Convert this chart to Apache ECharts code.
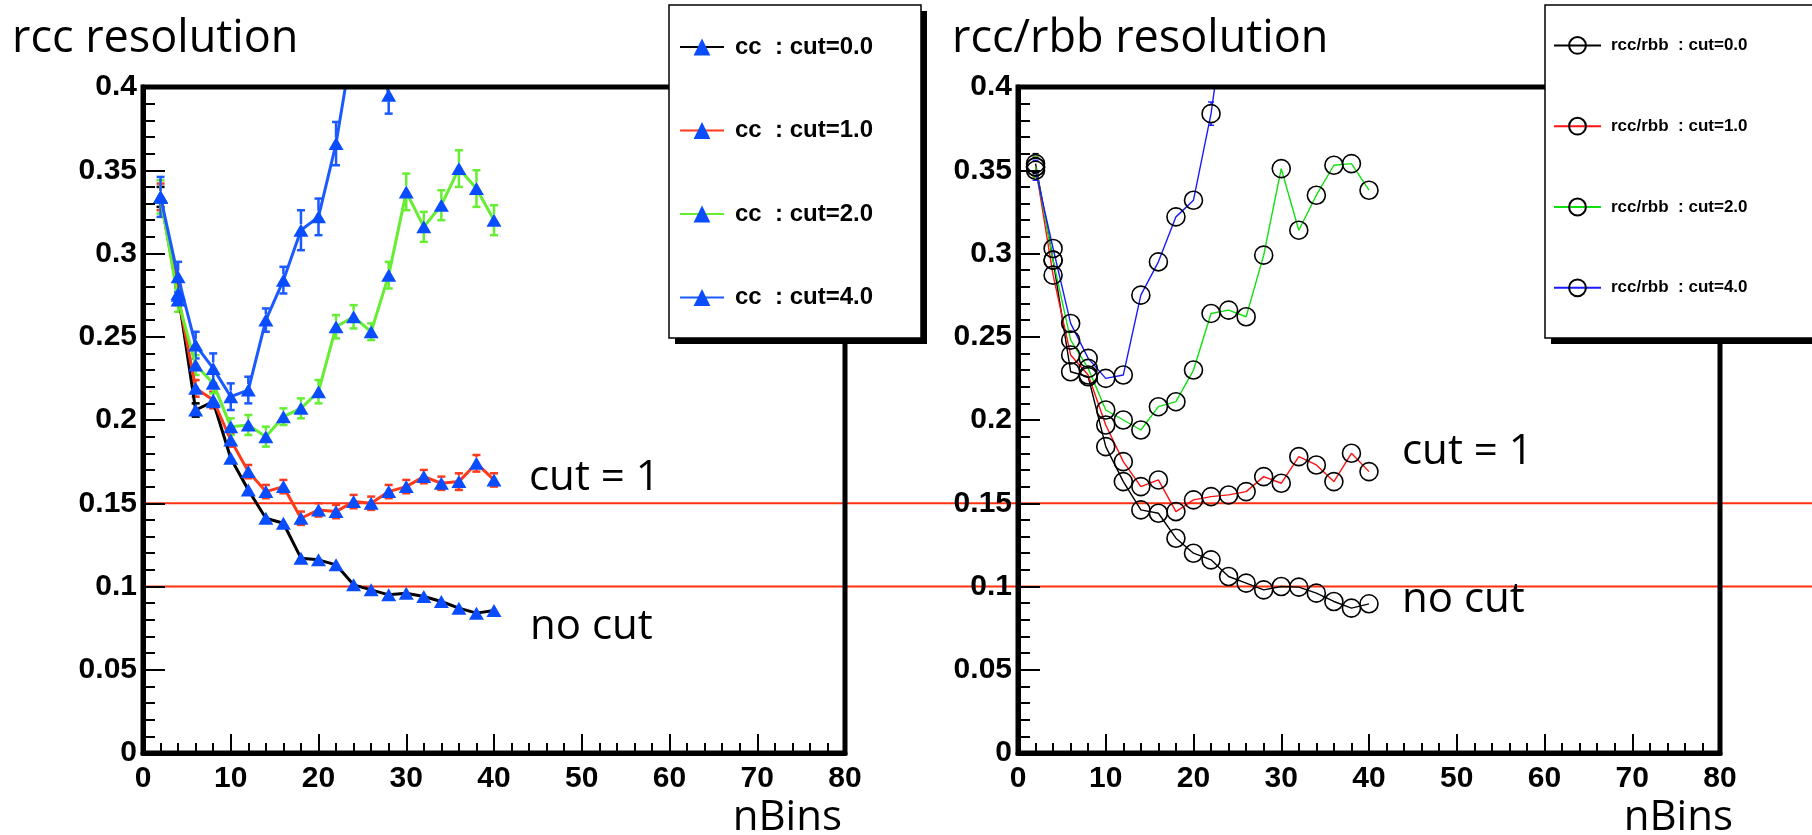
<!DOCTYPE html>
<html>
<head>
<meta charset="utf-8">
<title>rcc resolution vs nBins</title>
<script src="https://cdn.jsdelivr.net/npm/echarts@6/dist/echarts.min.js"></script>
<style>
  html, body { margin: 0; padding: 0; background: #ffffff; }
  #chart { width: 1812px; height: 835px; }
</style>
</head>
<body>
<div id="chart"></div>
<script>
// ---- data -----------------------------------------------------------------
const nBins = [2, 4, 6, 8, 10, 12, 14, 16, 18, 20, 22, 24, 26, 28, 30, 32, 34, 36, 38, 40];

// rcc resolution, one series per cut value
const ccNames = ['cc  : cut=0.0', 'cc  : cut=1.0', 'cc  : cut=2.0', 'cc  : cut=4.0'];
const ccCut0 = [0.334, 0.276, 0.206, 0.211, 0.177, 0.158, 0.141, 0.138, 0.117, 0.116, 0.113, 0.101, 0.098, 0.095, 0.096, 0.094, 0.091, 0.087, 0.084, 0.0856];
const ccCut1 = [0.334, 0.275, 0.219, 0.212, 0.188, 0.169, 0.157, 0.160, 0.141, 0.146, 0.145, 0.151, 0.150, 0.157, 0.160, 0.166, 0.162, 0.163, 0.174, 0.164];
const ccCut2 = [0.334, 0.272, 0.233, 0.222, 0.196, 0.197, 0.190, 0.202, 0.207, 0.217, 0.256, 0.262, 0.253, 0.287, 0.337, 0.316, 0.329, 0.351, 0.339, 0.320];
const ccCut4 = [0.334, 0.286, 0.245, 0.231, 0.214, 0.218, 0.260, 0.284, 0.314, 0.322, 0.366, 0.430, 0.450, 0.395];
const ccCut0Err = [0.006, 0.004, 0.004, 0.003, 0.003, 0.003, 0.003, 0.003, 0.002, 0.002, 0.002, 0.002, 0.002, 0.002, 0.002, 0.002, 0.002, 0.002, 0.002, 0.002];
const ccCut1Err = [0.008, 0.006, 0.005, 0.005, 0.004, 0.004, 0.004, 0.004, 0.004, 0.004, 0.004, 0.004, 0.004, 0.004, 0.004, 0.004, 0.004, 0.005, 0.005, 0.004];
const ccCut2Err = [0.010, 0.007, 0.006, 0.006, 0.005, 0.006, 0.006, 0.005, 0.006, 0.007, 0.007, 0.007, 0.005, 0.008, 0.011, 0.009, 0.009, 0.011, 0.011, 0.009];
const ccCut4Err = [0.012, 0.009, 0.008, 0.009, 0.008, 0.008, 0.007, 0.008, 0.012, 0.011, 0.013, 0.014, 0.014, 0.011];

// rcc/rbb resolution, one series per cut value
const ratioNames = ['rcc/rbb  : cut=0.0', 'rcc/rbb  : cut=1.0', 'rcc/rbb  : cut=2.0', 'rcc/rbb  : cut=4.0'];
const ratioCut0 = [0.354, 0.296, 0.229, 0.226, 0.184, 0.163, 0.146, 0.144, 0.129, 0.120, 0.116, 0.106, 0.102, 0.098, 0.100, 0.0996, 0.096, 0.091, 0.087, 0.0896];
const ratioCut1 = [0.352, 0.287, 0.239, 0.227, 0.197, 0.175, 0.160, 0.164, 0.145, 0.152, 0.154, 0.155, 0.157, 0.166, 0.162, 0.178, 0.173, 0.163, 0.180, 0.169];
const ratioCut2 = [0.352, 0.296, 0.248, 0.231, 0.206, 0.200, 0.194, 0.208, 0.211, 0.230, 0.264, 0.266, 0.262, 0.299, 0.351, 0.314, 0.335, 0.353, 0.354, 0.338];
const ratioCut4 = [0.350, 0.303, 0.258, 0.237, 0.225, 0.227, 0.275, 0.295, 0.322, 0.332, 0.384, 0.460];
const ratioCut0Err = [0.006, 0.004, 0.004, 0.004, 0.003, 0.003, 0.003, 0.003, 0.003, 0.003, 0.003, 0.003, 0.003, 0.003, 0.003, 0.003, 0.003, 0.003, 0.003, 0.003];
const ratioCut1Err = [0.006, 0.004, 0.004, 0.004, 0.003, 0.003, 0.003, 0.003, 0.003, 0.003, 0.003, 0.003, 0.003, 0.003, 0.003, 0.003, 0.003, 0.003, 0.003, 0.003];
const ratioCut2Err = [0.006, 0.004, 0.004, 0.004, 0.004, 0.004, 0.004, 0.004, 0.004, 0.004, 0.004, 0.004, 0.004, 0.004, 0.005, 0.004, 0.004, 0.005, 0.005, 0.004];
const ratioCut4Err = [0.006, 0.004, 0.004, 0.004, 0.004, 0.004, 0.004, 0.005, 0.005, 0.005, 0.007, 0.008];

// horizontal reference levels drawn across both panels
const refLevels = [0.15, 0.1];

// text
const panelTitles = ['rcc resolution', 'rcc/rbb resolution'];
const xTitle = 'nBins';
const notes = ['cut = 1', 'no cut'];

// ---- styling ----------------------------------------------------------------
const TICK_FONT = 'Liberation Sans';
const TEXT_FONT = 'Open Sans';
const ccLineColors = ['#000000', '#ff3a1a', '#66ee33', '#1a5aff'];
const ccMarkerColor = '#0a4dff';
const ratioLineColors = ['#000000', '#ff1010', '#10e010', '#1a1aff'];

const LEFT = { left: 143, top: 87, width: 702, height: 666 };
const RIGHT = { left: 1018, top: 87, width: 702, height: 666 };

function panelGrid(g) {
  return Object.assign({ show: true, borderColor: '#000', borderWidth: 5, backgroundColor: 'transparent', z: 5 }, g);
}

function xAxisFor(gridIndex) {
  return {
    type: 'value', gridIndex, min: 0, max: 80, interval: 10, z: 5,
    axisLine: { show: true, onZero: false, lineStyle: { color: '#000', width: 5 } },
    axisTick: { show: true, inside: true, length: 19, lineStyle: { color: '#000', width: 2 } },
    minorTick: { show: true, splitNumber: 5, length: 10, lineStyle: { color: '#000', width: 2 } },
    splitLine: { show: false }, minorSplitLine: { show: false },
    axisLabel: { color: '#000', fontFamily: TICK_FONT, fontWeight: 'bold', fontSize: 30, margin: 11 }
  };
}

function yAxisFor(gridIndex) {
  return {
    type: 'value', gridIndex, min: 0, max: 0.4, interval: 0.05, z: 5,
    axisLine: { show: true, onZero: false, lineStyle: { color: '#000', width: 5 } },
    axisTick: { show: true, inside: true, length: 22, lineStyle: { color: '#000', width: 2 } },
    minorTick: { show: true, splitNumber: 5, length: 12, lineStyle: { color: '#000', width: 2 } },
    splitLine: { show: false }, minorSplitLine: { show: false },
    axisLabel: {
      color: '#000', fontFamily: TICK_FONT, fontWeight: 'bold', fontSize: 30, margin: 6,
      formatter: v => String(+v.toFixed(2))
    }
  };
}

function pairs(ys) {
  return ys.map((v, i) => [nBins[i], v]);
}

// vertical error bars drawn outside the marker, with small end caps
function errorBars(name, axisIndex, ys, errs, color, width, cap, gap) {
  return {
    type: 'custom', name, xAxisIndex: axisIndex, yAxisIndex: axisIndex,
    clip: true, silent: true, z: 2,
    data: ys.map((v, i) => [nBins[i], v, errs[i]]),
    encode: { x: 0, y: 1 },
    renderItem(params, api) {
      const x = api.value(0), v = api.value(1), e = api.value(2);
      const c = api.coord([x, v]);
      const hi = api.coord([x, v + e]);
      const lo = api.coord([x, v - e]);
      const st = { stroke: color, lineWidth: width };
      const parts = [];
      if (c[1] - hi[1] > gap) {
        parts.push({ type: 'line', shape: { x1: c[0], y1: c[1] - gap, x2: hi[0], y2: hi[1] }, style: st });
        parts.push({ type: 'line', shape: { x1: hi[0] - cap, y1: hi[1], x2: hi[0] + cap, y2: hi[1] }, style: st });
      }
      if (lo[1] - c[1] > gap) {
        parts.push({ type: 'line', shape: { x1: c[0], y1: c[1] + gap, x2: lo[0], y2: lo[1] }, style: st });
        parts.push({ type: 'line', shape: { x1: lo[0] - cap, y1: lo[1], x2: lo[0] + cap, y2: lo[1] }, style: st });
      }
      return { type: 'group', children: parts };
    }
  };
}

function ccLine(i, ys) {
  return {
    type: 'line', name: ccNames[i], xAxisIndex: 1, yAxisIndex: 1, data: pairs(ys),
    symbol: 'triangle', symbolSize: [15, 13], clip: true, z: 3,
    itemStyle: { color: ccMarkerColor },
    lineStyle: { color: ccLineColors[i], width: 3 },
    emphasis: { disabled: true }
  };
}

function ratioLine(i, ys) {
  return {
    type: 'line', name: ratioNames[i], xAxisIndex: 2, yAxisIndex: 2, data: pairs(ys),
    symbol: 'circle', symbolSize: 18, clip: true, z: 3,
    itemStyle: { color: 'rgba(0,0,0,0)', borderColor: '#000', borderWidth: 1.6 },
    lineStyle: { color: ratioLineColors[i], width: 1.4 },
    emphasis: { disabled: true }
  };
}

const ccSeries = [ccCut0, ccCut1, ccCut2, ccCut4];
const ccErrs = [ccCut0Err, ccCut1Err, ccCut2Err, ccCut4Err];
const ratioSeries = [ratioCut0, ratioCut1, ratioCut2, ratioCut4];
const ratioErrs = [ratioCut0Err, ratioCut1Err, ratioCut2Err, ratioCut4Err];

const series = [];
// reference levels on a full-width overlay grid sharing the same vertical scale
refLevels.forEach(lvl => {
  series.push({
    type: 'line', name: 'level ' + lvl, xAxisIndex: 0, yAxisIndex: 0,
    data: [[0, lvl], [1, lvl]], symbol: 'none', z: 1, silent: true,
    lineStyle: { color: '#ff3010', width: 1.8 }
  });
});
ccSeries.forEach((ys, i) => {
  series.push(errorBars('cc err ' + i, 1, ys, ccErrs[i], ccLineColors[i], 2.5, 4, 6));
  series.push(ccLine(i, ys));
});
ratioSeries.forEach((ys, i) => {
  series.push(errorBars('ratio err ' + i, 2, ys, ratioErrs[i], ratioLineColors[i], 1.4, 3, 9));
  series.push(ratioLine(i, ys));
});

function legendBox(x, y, w, h) {
  return [
    { type: 'rect', z: 10, shape: { x: x + 6, y: y + 6, width: w, height: h }, style: { fill: '#000' } },
    { type: 'rect', z: 11, shape: { x, y, width: w, height: h }, style: { fill: '#fff', stroke: '#000', lineWidth: 1.5 } }
  ];
}

function label(text, x, y, size, align) {
  return {
    type: 'text', z: 12,
    style: {
      text, x, y, fill: '#000', font: size + 'px "' + TEXT_FONT + '"',
      textAlign: align || 'left', textVerticalAlign: 'middle', align: align || 'left', verticalAlign: 'middle'
    }
  };
}

const option = {
  animation: false,
  backgroundColor: '#ffffff',
  grid: [
    { left: 146, right: 0, top: 87, bottom: 82, show: false },
    panelGrid(LEFT),
    panelGrid(RIGHT)
  ],
  xAxis: [
    { type: 'value', gridIndex: 0, min: 0, max: 1, show: false },
    xAxisFor(1),
    xAxisFor(2)
  ],
  yAxis: [
    { type: 'value', gridIndex: 0, min: 0, max: 0.4, show: false },
    yAxisFor(1),
    yAxisFor(2)
  ],
  legend: [
    {
      data: ccNames, orient: 'vertical', left: 679, top: 35, padding: 0,
      itemWidth: 44, itemHeight: 21, itemGap: 59.5, selectedMode: false, z: 13,
      textStyle: { fontFamily: TICK_FONT, fontWeight: 'bold', fontSize: 24, color: '#000', padding: [0, 0, 0, 6] }
    },
    {
      data: ratioNames, orient: 'vertical', left: 1553, top: 36, padding: 0,
      itemWidth: 47, itemHeight: 21, itemGap: 62, selectedMode: false, z: 13,
      textStyle: { fontFamily: TICK_FONT, fontWeight: 'bold', fontSize: 17, color: '#000', padding: [0, 0, 0, 5] }
    }
  ],
  graphic: [].concat(
    legendBox(669, 5, 252, 333),
    legendBox(1545, 5, 290, 333),
    [
      label(panelTitles[0], 12, 39, 45),
      label(panelTitles[1], 952, 39, 45),
      label(notes[0], 529, 478, 42),
      label(notes[1], 530, 627, 42),
      label(notes[0], 1402, 452, 42),
      label(notes[1], 1402, 600, 42),
      label(xTitle, 842, 818, 42, 'right'),
      label(xTitle, 1733, 818, 42, 'right')
    ]
  ),
  series
};

const chart = echarts.init(document.getElementById('chart'), null, { renderer: 'canvas' });
chart.setOption(option);
</script>
</body>
</html>
